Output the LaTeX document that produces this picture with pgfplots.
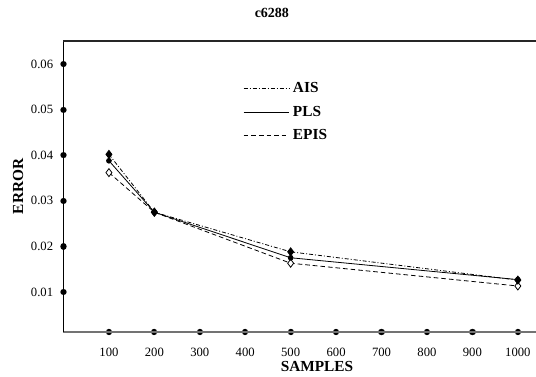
\documentclass[border=0pt]{standalone}
\usepackage{fontspec}
\setmainfont{Liberation Serif}
\usepackage{pgfplots}
\pgfplotsset{compat=1.18}
\begin{document}
\begin{tikzpicture}
\begin{axis}[
  scale only axis, width=354.4pt, height=218.25pt,
  xmin=0, xmax=10.4, ymin=0.0012, ymax=0.0651,
  clip=false,
  scaled y ticks=false,
  axis x line*=bottom, axis y line*=left,
  x axis line style={black!55, line width=0.8pt},
  y axis line style={black, line width=0.8pt},
  xtick={1,2,3,4,5,6,7,8,9,10},
  xticklabels={100,200,300,400,500,600,700,800,900,1000},
  ytick={0.01,0.02,0.03,0.04,0.05,0.06},
  yticklabels={0.01,0.02,0.03,0.04,0.05,0.06},
  major tick length=0.1pt, tick align=center,
  tick style={line width=4.7pt, line cap=round, black},
  xticklabel style={font=\fontsize{9.5}{11}\selectfont, inner sep=0pt, anchor=north, yshift=-11.5pt},
  yticklabel style={font=\fontsize{9.5}{11}\selectfont, inner sep=0pt, anchor=east, xshift=-7.5pt},
  xlabel={\bfseries SAMPLES}, ylabel={\bfseries ERROR},
  every axis x label/.style={at={(axis description cs:0.5365,-0.119)}, anchor=center, font=\fontsize{11.5}{13}\selectfont},
  every axis y label/.style={at={(axis description cs:-0.096,0.5)}, rotate=90, anchor=center, font=\fontsize{11.5}{13}\selectfont},
  title={\bfseries c6288},
  every axis title/.style={at={(axis description cs:0.441,1.096)}, anchor=center, font=\fontsize{10.5}{12}\selectfont},
  legend style={at={(axis description cs:0.38,0.862)}, anchor=north west, draw=none, fill=none,
    font=\bfseries\fontsize{11.5}{13}\selectfont, row sep=6.5pt, inner sep=0pt,
    nodes={inner xsep=2.5pt, inner ysep=1pt}},
  legend cell align=left,
  reverse legend,
  legend image code/.code={\draw[#1] (0cm,0cm) -- (1.2cm,0cm);},
]
\addplot[black, line width=0.6pt, dash pattern=on 3.5pt off 2.2pt, mark=diamond*, mark size=3pt,
  mark options={solid, fill=white, line width=0.6pt}]
  coordinates {(1,0.0362) (2,0.0275) (5,0.0163) (10,0.0113)};
\addlegendentry{EPIS}
\addplot[black, line width=0.6pt, mark=*, mark size=1.8pt, mark options={solid}]
  coordinates {(1,0.0388) (2,0.0275) (5,0.0175) (10,0.0127)};
\addlegendentry{PLS}
\addplot[black, line width=0.6pt, dash pattern=on 3pt off 1.5pt on 0.75pt off 1.5pt, mark=diamond*, mark size=3pt,
  mark options={solid, fill=black}]
  coordinates {(1,0.0402) (2,0.0275) (5,0.0188) (10,0.0126)};
\addlegendentry{AIS}
\draw[black!85, line width=0.8pt] (rel axis cs:0,1) -- (rel axis cs:1,1);
\coordinate (bl) at (rel axis cs:0,0);
\coordinate (tr) at (rel axis cs:1,1);
\end{axis}
\pgfresetboundingbox
\path ([xshift=-47.625pt,yshift=-33.75pt]bl) rectangle ([yshift=30.75pt]tr);
\end{tikzpicture}
\end{document}
